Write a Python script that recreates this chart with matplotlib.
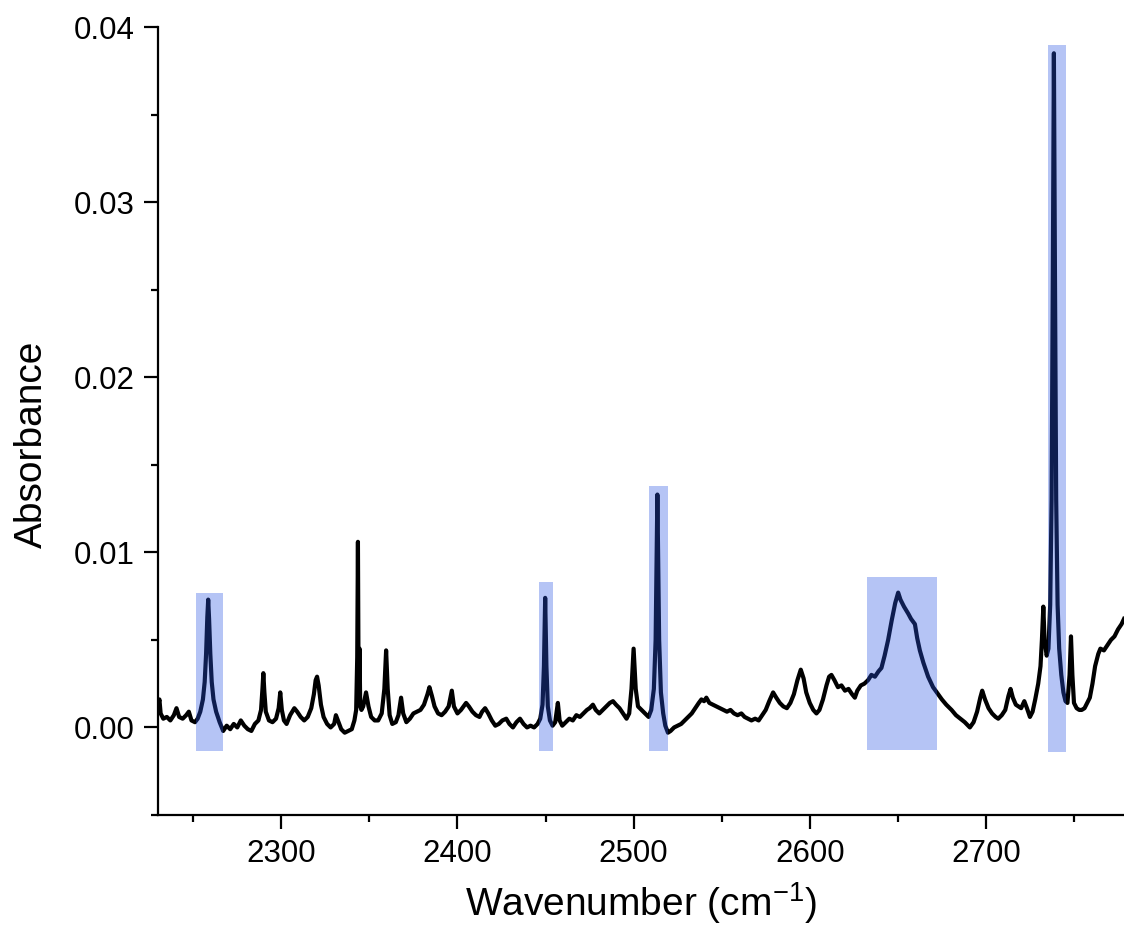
import matplotlib
matplotlib.use("Agg")
import matplotlib.pyplot as plt
from matplotlib.patches import Rectangle
from matplotlib.ticker import MultipleLocator, FormatStrFormatter

plt.rcParams['font.family'] = ['Liberation Sans', 'DejaVu Sans']
plt.rcParams['mathtext.fontset'] = 'custom'
plt.rcParams['mathtext.rm'] = 'Liberation Sans'
plt.rcParams['mathtext.it'] = 'Liberation Sans:italic'

# Spectrum (wavenumber in cm-1, absorbance)
wavenumber = [
    2230.0, 2230.8, 2231.5, 2233, 2235, 2237, 2239, 2240.5, 2242, 2244, 2246, 2247.5, 2249, 2251,
    2252.5, 2254, 2255.5, 2256.5, 2257.3, 2258.0, 2258.5, 2259.0, 2259.7, 2260.5, 2261.5, 2263,
    2265, 2267, 2269, 2271, 2273, 2275, 2277, 2279, 2281, 2283, 2285, 2287, 2288.5, 2289.3,
    2289.8, 2290.4, 2291.2, 2293, 2295, 2297, 2298.5, 2299.4, 2300.3, 2301.5, 2303, 2305, 2307.4,
    2309, 2311, 2313, 2315, 2317, 2318.5, 2319.5, 2320.3, 2321.2, 2322.5, 2324, 2326, 2328, 2330,
    2331, 2332.5, 2334, 2336, 2338, 2340, 2341.5, 2342.5, 2343.1, 2343.5, 2343.8, 2344.1, 2344.4,
    2344.8, 2345.5, 2346.5, 2348.1, 2349.5, 2351, 2353, 2355, 2357, 2358.5, 2359.5, 2360.4,
    2361.5, 2363, 2365, 2366.5, 2368, 2369.2, 2371, 2373, 2375, 2377, 2379, 2381, 2383, 2384.1,
    2385.5, 2387, 2389, 2391, 2393, 2395, 2396.8, 2398, 2400, 2402, 2404.9, 2406.5, 2408.5,
    2410.5, 2412.5, 2414, 2415.7, 2417.5, 2419.5, 2421.5, 2423.5, 2425.5, 2427.7, 2429.5, 2431.5,
    2433.5, 2435.5, 2437.5, 2439.5, 2441.5, 2443.5, 2445.5, 2447, 2448.3, 2449.1, 2449.8, 2450.5,
    2451.3, 2452.5, 2454, 2455.5, 2457, 2458, 2459.5, 2461.5, 2463.5, 2465.5, 2467.5, 2469.5,
    2471.5, 2473.5, 2475, 2476.9, 2478.5, 2480.5, 2482.5, 2484.5, 2486.5, 2488.3, 2490, 2492,
    2494, 2496, 2497.5, 2498.8, 2500, 2501.2, 2502.5, 2504.5, 2506.5, 2508.5, 2510, 2511.5,
    2512.5, 2513.5, 2514.5, 2515.5, 2516.8, 2518, 2519.5, 2521, 2523, 2525, 2527, 2529, 2531,
    2533, 2535, 2537, 2538.5, 2540, 2541.3, 2543, 2545, 2547, 2549, 2551, 2553, 2555, 2557, 2559,
    2561.2, 2563, 2565, 2566.9, 2569, 2571, 2573, 2575, 2577, 2579.2, 2581, 2583, 2585, 2587,
    2589, 2591, 2593, 2594.9, 2596.5, 2598, 2600, 2602, 2603.8, 2605.5, 2607.5, 2609.5, 2611,
    2612.3, 2614, 2616, 2618, 2620, 2622, 2624, 2625.6, 2627, 2629, 2631, 2633.1, 2635, 2637,
    2639, 2640.7, 2642.5, 2644.5, 2646.5, 2648.5, 2650.2, 2651.5, 2653.5, 2655.9, 2657.5, 2659.7,
    2661, 2662.5, 2664.5, 2667.2, 2670, 2672.9, 2675, 2677.5, 2680.5, 2683, 2685.5, 2688, 2690.9,
    2693, 2695, 2696.8, 2697.9, 2699.5, 2701.5, 2703.5, 2705.5, 2707, 2709, 2711, 2712.8, 2714,
    2715.3, 2717, 2718.5, 2720, 2721.8, 2723.3, 2725, 2726.5, 2728, 2729.7, 2731, 2731.8, 2732.6,
    2733.3, 2734.5, 2735.5, 2736.5, 2737.3, 2738.0, 2738.6, 2739.2, 2739.9, 2740.7, 2741.6,
    2742.8, 2744, 2745.2, 2746.3, 2747.5, 2748.3, 2749.1, 2750, 2751.5, 2753, 2754.4, 2756,
    2757.5, 2759, 2760.5, 2762, 2763.8, 2765, 2767, 2769, 2771, 2773, 2775, 2777, 2778.4,
]
absorbance = [
    0.0012, 0.0016, 0.0008, 0.0005, 0.0006, 0.0004, 0.0007, 0.0011, 0.0006, 0.0005, 0.0007, 0.0009, 0.0004, 0.0003,
    0.0005, 0.0009, 0.0016, 0.0026, 0.0042, 0.0063, 0.0073, 0.0062, 0.0042, 0.0026, 0.0016, 0.0009,
    0.0003, -0.0002, 0.0001, -0.0001, 0.0002, 0.0000, 0.0004, 0.0001, -0.0001, -0.0002, 0.0002, 0.0004, 0.0010, 0.0022,
    0.0031, 0.0020, 0.0009, 0.0004, 0.0003, 0.0005, 0.0011, 0.0020, 0.0010, 0.0004, 0.0002, 0.0007, 0.0011,
    0.0009, 0.0006, 0.0004, 0.0006, 0.0011, 0.0019, 0.0027, 0.0029, 0.0024, 0.0013, 0.0006, 0.0002, 0.0000, 0.0002,
    0.0007, 0.0003, -0.0001, -0.0003, -0.0002, -0.0001, 0.0004, 0.0010, 0.0040, 0.0106, 0.0040, 0.0015, 0.0045,
    0.0012, 0.0010, 0.0012, 0.0020, 0.0012, 0.0006, 0.0004, 0.0004, 0.0008, 0.0022, 0.0044, 0.0022,
    0.0007, 0.0002, 0.0003, 0.0007, 0.0017, 0.0008, 0.0003, 0.0005, 0.0008, 0.0009, 0.0010, 0.0013, 0.0019, 0.0023,
    0.0018, 0.0012, 0.0008, 0.0007, 0.0009, 0.0012, 0.0021, 0.0012, 0.0008, 0.0010, 0.0014, 0.0012, 0.0009,
    0.0007, 0.0006, 0.0009, 0.0011, 0.0008, 0.0004, 0.0001, 0.0002, 0.0004, 0.0005, 0.0002, 0.0000,
    0.0003, 0.0005, 0.0002, 0.0000, 0.0001, 0.0000, 0.0002, 0.0005, 0.0013, 0.0035, 0.0074, 0.0035,
    0.0012, 0.0004, 0.0001, 0.0003, 0.0014, 0.0004, 0.0001, 0.0003, 0.0005, 0.0004, 0.0007, 0.0006,
    0.0008, 0.0010, 0.0011, 0.0013, 0.0010, 0.0008, 0.0010, 0.0012, 0.0014, 0.0015, 0.0013, 0.0011,
    0.0008, 0.0005, 0.0008, 0.0022, 0.0045, 0.0022, 0.0012, 0.0010, 0.0008, 0.0006, 0.0010, 0.0022,
    0.0050, 0.0133, 0.0050, 0.0020, 0.0008, 0.0001, -0.0003, -0.0002, 0.0000, 0.0001, 0.0002, 0.0004, 0.0006,
    0.0008, 0.0011, 0.0014, 0.0016, 0.0015, 0.0017, 0.0014, 0.0013, 0.0012, 0.0011, 0.0010, 0.0009, 0.0010, 0.0008, 0.0007,
    0.0008, 0.0006, 0.0005, 0.0004, 0.0005, 0.0004, 0.0007, 0.0010, 0.0015, 0.0020, 0.0017, 0.0014, 0.0012, 0.0011,
    0.0014, 0.0019, 0.0027, 0.0033, 0.0028, 0.0020, 0.0014, 0.0010, 0.0008, 0.0010, 0.0016, 0.0024, 0.0029,
    0.0030, 0.0027, 0.0023, 0.0024, 0.0021, 0.0022, 0.0019, 0.0017, 0.0021, 0.0024, 0.0025, 0.0027, 0.0030, 0.0029,
    0.0032, 0.0034, 0.0041, 0.0050, 0.0061, 0.0071, 0.0077, 0.0073, 0.0069, 0.0065, 0.0062, 0.0059,
    0.0051, 0.0044, 0.0037, 0.0029, 0.0023, 0.0019, 0.0016, 0.0013, 0.0010, 0.0007, 0.0005, 0.0003, 0.0000,
    0.0003, 0.0009, 0.0017, 0.0021, 0.0016, 0.0011, 0.0008, 0.0006, 0.0005, 0.0007, 0.0010, 0.0018, 0.0022,
    0.0017, 0.0013, 0.0012, 0.0011, 0.0015, 0.0011, 0.0006, 0.0009, 0.0016, 0.0025, 0.0035, 0.0050, 0.0069,
    0.0050, 0.0041, 0.0045, 0.0070, 0.0130, 0.0260, 0.0385, 0.0260, 0.0130, 0.0070, 0.0045,
    0.0030, 0.0020, 0.0015, 0.0014, 0.0030, 0.0052, 0.0030, 0.0014, 0.0011, 0.0010, 0.0010, 0.0011,
    0.0014, 0.0017, 0.0025, 0.0035, 0.0042, 0.0045, 0.0044, 0.0047, 0.0050, 0.0052, 0.0056, 0.0059, 0.0062,
]

# Highlighted bands
band_x0 = [2251.7, 2446.2, 2508.5, 2632.4, 2735.2]
band_x1 = [2267.0, 2454.0, 2519.7, 2672.5, 2745.3]
band_y0 = [-0.00132, -0.00132, -0.00137, -0.00130, -0.00142]
band_y1 = [0.00767, 0.00830, 0.01380, 0.00858, 0.03900]

x_ticks = [2300, 2400, 2500, 2600, 2700]
y_ticks = [0.00, 0.01, 0.02, 0.03, 0.04]

fig = plt.figure(figsize=(11.24, 9.44), dpi=100)
ax = fig.add_axes([158 / 1124, 129 / 944, 1 - 158 / 1124, (944 - 129 - 27) / 944])

ax.plot(wavenumber, absorbance, color='black', lw=3.0, solid_joinstyle='round', zorder=2)

for x0, x1, y0, y1 in zip(band_x0, band_x1, band_y0, band_y1):
    ax.add_patch(Rectangle((x0, y0), x1 - x0, y1 - y0, facecolor='#2b56e5',
                           edgecolor='none', alpha=0.35, zorder=3))

ax.set_xlim(2230, 2778.4)
ax.set_ylim(-0.005, 0.04)
ax.set_xticks(x_ticks)
ax.set_yticks(y_ticks)
ax.xaxis.set_minor_locator(MultipleLocator(50))
ax.yaxis.set_minor_locator(MultipleLocator(0.005))
ax.yaxis.set_major_formatter(FormatStrFormatter('%.2f'))

for side in ['top', 'right']:
    ax.spines[side].set_visible(False)
for side in ['left', 'bottom']:
    ax.spines[side].set_linewidth(1.6)

ax.tick_params(which='major', direction='out', length=10, width=1.6, labelsize=22.5, pad=7)
ax.tick_params(which='minor', direction='out', length=5, width=1.6)

ax.set_xlabel(r'Wavenumber (cm$^{\mathregular{-1}}$)', fontsize=28, labelpad=8)
ax.set_ylabel('Absorbance', fontsize=28)
ax.yaxis.set_label_coords(-0.112, 0.471)

fig.savefig('out.png', dpi=100)
